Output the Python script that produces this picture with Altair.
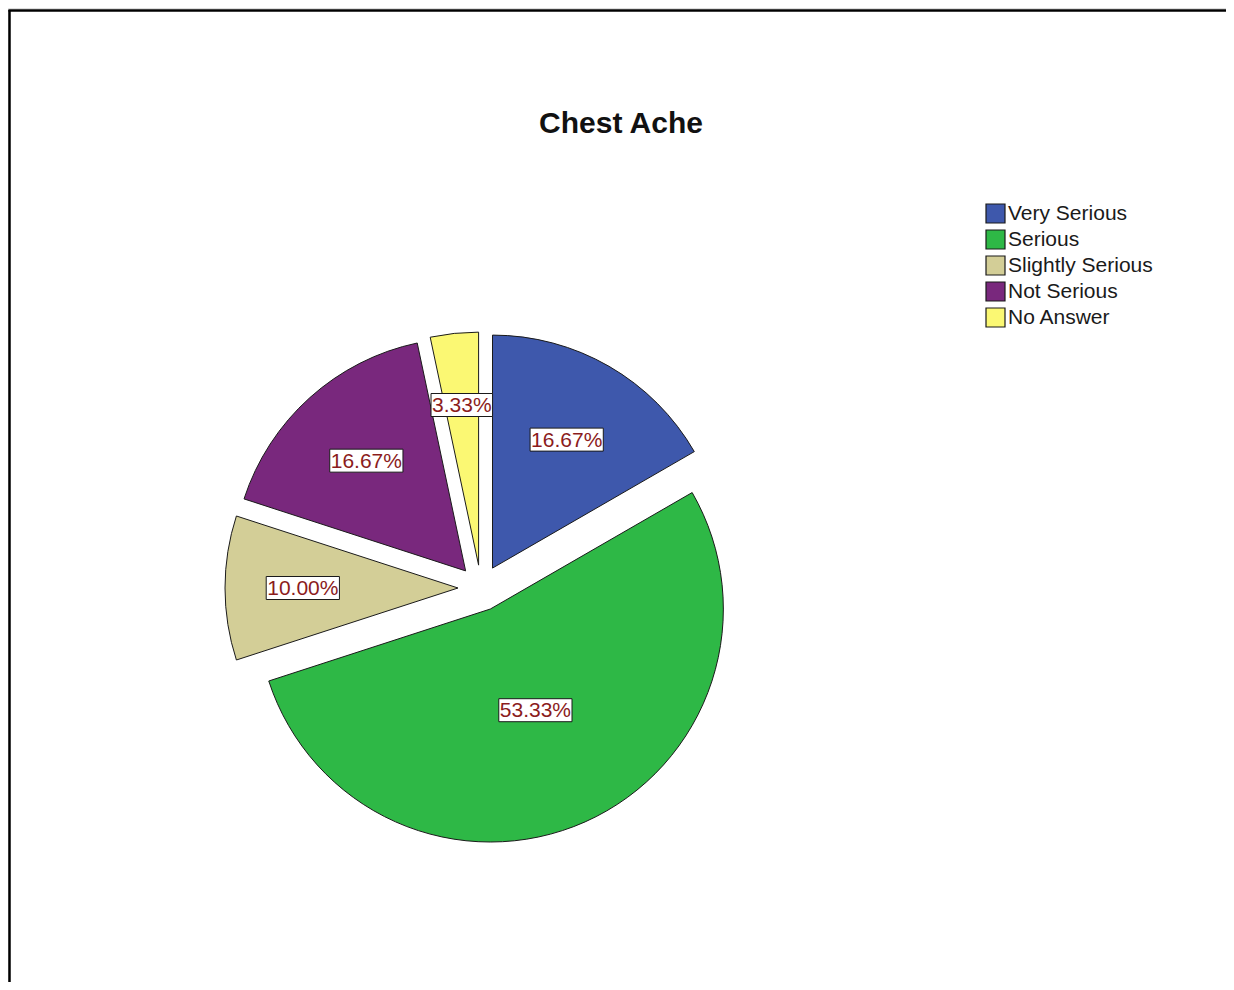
import altair as alt
import pandas as pd

# ---- data ----
categories = ["Very Serious", "Serious", "Slightly Serious", "Not Serious", "No Answer"]
percents = [16.67, 53.33, 10.00, 16.67, 3.33]
colors = ["#3e58ac", "#2eb846", "#d3ce97", "#79287d", "#fbf873"]
title_text = "Chest Ache"

df = pd.DataFrame({
    "category": categories,
    "value": percents,
    "idx": list(range(len(categories))),
})

# ---- styling constants ----
W, H = 1218, 974
CX, CY = 473, 580      # pie centre (chart pixels)
R = 233                # radius
EXPLODE = 23           # slice offset
FONT = "Liberation Sans"

base = alt.Chart(df).transform_joinaggregate(
    total="sum(value)"
).transform_window(
    cum="sum(value)", sort=[alt.SortField("idx", order="ascending")], frame=[None, 0]
).transform_calculate(
    a1="2*PI*datum.cum/datum.total",
    a0="2*PI*(datum.cum-datum.value)/datum.total",
    half="PI*datum.value/datum.total",
).transform_calculate(
    mid="(datum.a0+datum.a1)/2",
).transform_calculate(
    cx=f"{CX}+{EXPLODE}*sin(datum.mid)",
    cy=f"{CY}-{EXPLODE}*cos(datum.mid)",
    ldist=f"{R}*(0.71-0.14*datum.half-0.4*datum.half*datum.half*(datum.half<0.2))",
    label="format(datum.value, '.2f') + '%'",
).transform_calculate(
    lx="datum.cx+datum.ldist*sin(datum.mid)",
    ly="datum.cy-datum.ldist*cos(datum.mid)",
    bw="21*(0.556*(length(datum.label)-2)+1.167)+2",
).transform_calculate(
    bx1="datum.lx-datum.bw/2",
    bx2="datum.lx+datum.bw/2",
    by1="datum.ly-11.5",
    by2="datum.ly+11.5",
)

arcs = base.mark_arc(radius=R, stroke="#1a1a1a", strokeWidth=1).encode(
    theta=alt.Theta("a0:Q", scale=None),
    theta2="a1:Q",
    x=alt.X("cx:Q", scale=None),
    y=alt.Y("cy:Q", scale=None),
    color=alt.Color(
        "category:N",
        scale=alt.Scale(domain=categories, range=colors),
        sort=categories,
        legend=alt.Legend(
            title=None,
            orient="none",
            legendX=977,
            legendY=195,
            symbolType="square",
            symbolSize=361,
            symbolStrokeColor="#1a1a1a",
            symbolStrokeWidth=1.2,
            symbolOpacity=1,
            labelFont=FONT,
            labelFontSize=21,
            labelColor="#1a1a1a",
            labelOffset=2,
            rowPadding=1,
            padding=0,
        ),
    ),
)

boxes = base.mark_rect(fill="white", stroke="#1a1a1a", strokeWidth=1).encode(
    x=alt.X("bx1:Q", scale=None),
    x2="bx2:Q",
    y=alt.Y("by1:Q", scale=None),
    y2="by2:Q",
)

labels = base.mark_text(
    font=FONT, fontSize=21, color="#8b1c1c", align="center", baseline="middle", dy=1
).encode(
    x=alt.X("lx:Q", scale=None),
    y=alt.Y("ly:Q", scale=None),
    text="label:N",
)

frame_data = alt.Data(values=[{"t": title_text}])
left_rule = alt.Chart(frame_data).mark_rule(color="black", strokeWidth=2.5).encode(
    x=alt.value(1.5), y=alt.value(2), y2=alt.value(H)
)
top_rule = alt.Chart(frame_data).mark_rule(color="black", strokeWidth=2.5).encode(
    x=alt.value(0.5), x2=alt.value(W), y=alt.value(2.5)
)
title = alt.Chart(frame_data).mark_text(
    font=FONT, fontSize=30, fontWeight="bold", color="#111111",
    align="center", baseline="alphabetic"
).encode(
    x=alt.value(613), y=alt.value(125), text="t:N"
)

chart = alt.layer(left_rule, top_rule, title, arcs, boxes, labels).properties(
    width=W, height=H, padding=0,
    autosize=alt.AutoSizeParams(type="none"),
).configure_view(stroke=None).configure(background="white")

chart.save("out.html", embed_options={"renderer": "svg", "actions": False})
